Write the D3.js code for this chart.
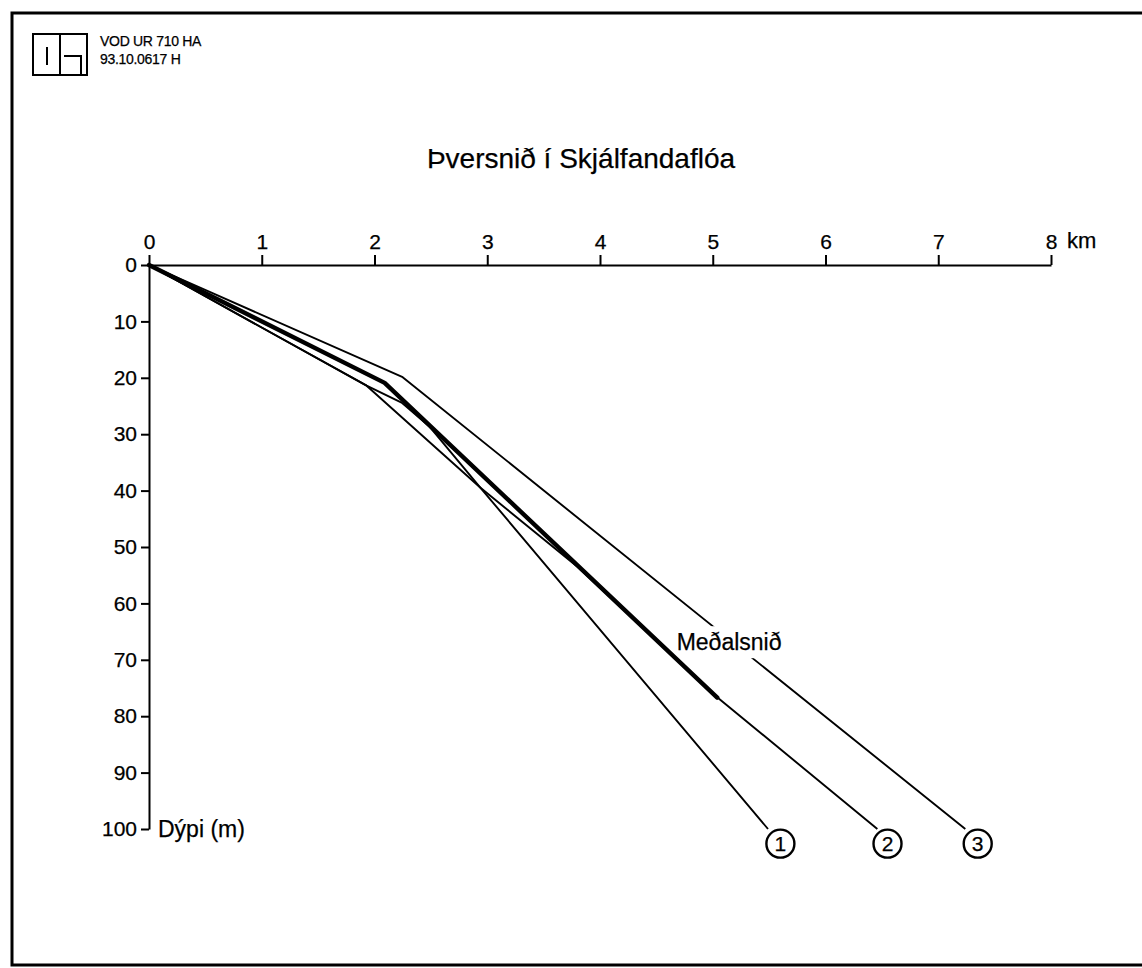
<!DOCTYPE html>
<html>
<head>
<meta charset="utf-8">
<script src="https://cdn.jsdelivr.net/npm/d3@7"></script>
<style>
  html, body { margin: 0; padding: 0; background: #fff; }
  svg { display: block; }
  text { font-family: "Liberation Sans", Arial, Helvetica, sans-serif; fill: #000; stroke: #000; stroke-width: 0.25px; }
</style>
</head>
<body>
<svg id="chart" width="1142" height="968"></svg>
<script>
// ---- data ----
const headerLines = ["VOD UR 710 HA", "93.10.0617 H"];
const title = "Þversnið í Skjálfandaflóa";
const xTicks = [0, 1, 2, 3, 4, 5, 6, 7, 8];
const yTicks = [0, 10, 20, 30, 40, 50, 60, 70, 80, 90, 100];
const xUnit = "km";
const yLabel = "Dýpi (m)";
// profiles: [distance km, depth m]
const profile1 = [[0, 0], [1.93, 21.4], [2.94, 39.5], [5.49, 100]];
const profile2 = [[0, 0], [1.93, 21.4], [2.24, 24.4], [2.49, 28.7], [2.94, 39.5], [3.80, 53.5], [5.05, 76.8], [6.46, 100]];
const profile3 = [[0, 0], [2.25, 19.9], [7.24, 100]];
const meanProfile = [[0, 0], [2.09, 20.9], [5.04, 76.7]];
const meanLabel = "Meðalsnið";
const meanLabelPos = [4.68, 68.3];
const endLabels = ["1", "2", "3"];
const endLabelX = [5.60, 6.55, 7.35];
const endLabelDepth = 102.6;

// ---- drawing ----
const svg = d3.select("#chart");
const x = d3.scaleLinear().domain([0, 8]).range([149, 1051]);
const y = d3.scaleLinear().domain([0, 100]).range([265, 829]);

// frame
svg.append("path")
  .attr("d", "M1142,13 L12,13 L12,965 L1142,965")
  .attr("fill", "none").attr("stroke", "#000").attr("stroke-width", 3);

// logo
const logo = svg.append("g").attr("fill", "none").attr("stroke", "#000").attr("stroke-width", 2);
logo.append("rect").attr("x", 33).attr("y", 34).attr("width", 54).attr("height", 41);
logo.append("line").attr("x1", 60).attr("y1", 34).attr("x2", 60).attr("y2", 75);
logo.append("line").attr("x1", 47).attr("y1", 47).attr("x2", 47).attr("y2", 65);
logo.append("path").attr("d", "M64,56 L81,56 L81,75");

svg.selectAll("text.hdr").data(headerLines).join("text")
  .attr("class", "hdr")
  .attr("x", 100).attr("y", (d, i) => 46 + i * 18)
  .attr("font-size", 14).attr("letter-spacing", -0.3)
  .text(d => d);

// title
svg.append("text").attr("x", 581).attr("y", 168)
  .attr("text-anchor", "middle").attr("font-size", 28)
  .text(title);

// axes
const xAxis = d3.axisTop(x).tickValues(xTicks).tickSize(10).tickSizeOuter(0).tickPadding(6).tickFormat(d3.format("d"));
const gx = svg.append("g").attr("transform", `translate(0,${y(0)})`).call(xAxis);
gx.select(".domain").attr("stroke-width", 2);
gx.selectAll(".tick line").attr("stroke-width", 2);
gx.selectAll(".tick text").attr("font-size", 21).attr("font-family", "Liberation Sans, Arial, sans-serif");

const yAxis = d3.axisLeft(y).tickValues(yTicks).tickSize(8).tickSizeOuter(0).tickPadding(4).tickFormat(d3.format("d"));
const gy = svg.append("g").attr("transform", `translate(${x(0)},0)`).call(yAxis);
gy.select(".domain").attr("stroke-width", 2);
gy.selectAll(".tick line").attr("stroke-width", 2);
gy.selectAll(".tick text").attr("font-size", 21).attr("font-family", "Liberation Sans, Arial, sans-serif");

svg.append("text").attr("x", x(8) + 16).attr("y", y(0) - 17)
  .attr("font-size", 22).text(xUnit);
svg.append("text").attr("x", x(0) + 9).attr("y", y(100) + 8)
  .attr("font-size", 23).text(yLabel);

// thin profile lines
const line = d3.line().x(d => x(d[0])).y(d => y(d[1]));
const thin = [profile1, profile2, profile3];
svg.selectAll("path.profile").data(thin).join("path")
  .attr("class", "profile")
  .attr("d", line)
  .attr("fill", "none").attr("stroke", "#000").attr("stroke-width", 1.9)
  .attr("stroke-linejoin", "round");

// mean label with white knockout (interrupts profile 3)
const ml = svg.append("g");
const mlText = ml.append("text")
  .attr("x", x(meanLabelPos[0])).attr("y", y(meanLabelPos[1]))
  .attr("font-size", 23).text(meanLabel);
const bb = mlText.node().getBBox();
ml.insert("rect", "text")
  .attr("x", bb.x - 2).attr("y", bb.y - 3).attr("width", bb.width + 4).attr("height", bb.height + 6)
  .attr("fill", "#fff");

// mean profile (thick), drawn on top
svg.append("path").datum(meanProfile)
  .attr("d", line)
  .attr("fill", "none").attr("stroke", "#000").attr("stroke-width", 4.4)
  .attr("stroke-linejoin", "round").attr("stroke-linecap", "round");

// circled end labels
const ends = svg.selectAll("g.end").data(endLabels).join("g")
  .attr("class", "end")
  .attr("transform", (d, i) => `translate(${x(endLabelX[i])},${y(endLabelDepth)})`);
ends.append("circle").attr("r", 14).attr("fill", "#fff").attr("stroke", "#000").attr("stroke-width", 2.4);
ends.append("text").attr("text-anchor", "middle").attr("dy", "0.36em")
  .attr("font-size", 21).text(d => d);
</script>
</body>
</html>
